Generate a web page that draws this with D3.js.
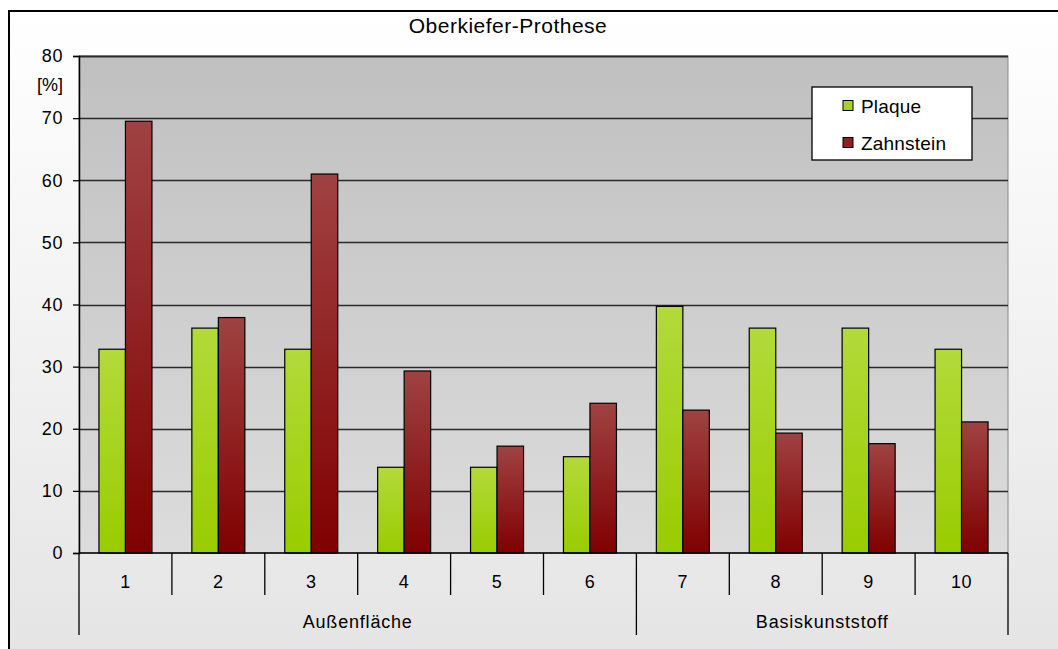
<!DOCTYPE html>
<html>
<head>
<meta charset="utf-8">
<script src="https://cdn.jsdelivr.net/npm/d3@7"></script>
<style>
  body { margin: 0; background: #fff; }
  svg { display: block; font-family: "Liberation Sans", Arial, sans-serif; }
</style>
</head>
<body>
<div id="chart"></div>
<script>
var categories = ["1", "2", "3", "4", "5", "6", "7", "8", "9", "10"];
var groups = [
  { name: "Außenfläche", from: 0, to: 6 },
  { name: "Basiskunststoff", from: 6, to: 10 }
];
var seriesNames = ["Plaque", "Zahnstein"];
var plaque = [32.8, 36.2, 32.8, 13.8, 13.8, 15.5, 39.7, 36.2, 36.2, 32.8];
var zahnstein = [69.5, 37.9, 61.0, 29.3, 17.2, 24.1, 23.0, 19.3, 17.6, 21.1];
var yTicks = [0, 10, 20, 30, 40, 50, 60, 70, 80];

var W = 1058, H = 649;
var margin = { top: 56, right: 50, bottom: 96, left: 79 };
var width = W - margin.left - margin.right,
  height = H - margin.top - margin.bottom;

var svg = d3.select("#chart").append("svg")
  .attr("width", W).attr("height", H);

var defs = svg.append("defs");
function vgrad(id, c0, c1) {
  var g = defs.append("linearGradient").attr("id", id)
    .attr("x1", 0).attr("y1", 0).attr("x2", 0).attr("y2", 1);
  g.append("stop").attr("offset", "0%").attr("stop-color", c0);
  g.append("stop").attr("offset", "100%").attr("stop-color", c1);
}
vgrad("bgGrad", "#ffffff", "#e2e2e2");
vgrad("plotGrad", "#c0c0c0", "#dcdcdc");
vgrad("gGrad", "#b2da3a", "#99cc00");
vgrad("rGrad", "#a04242", "#800000");

var axisFont = { size: 18, spacing: 0.8 };

// outer frame
svg.append("rect")
  .attr("x", 9).attr("y", 11).attr("width", 1200).attr("height", 700)
  .attr("fill", "url(#bgGrad)").attr("stroke", "#000").attr("stroke-width", 2);

svg.append("text")
  .attr("x", 508).attr("y", 33)
  .attr("text-anchor", "middle").attr("font-size", 21).attr("letter-spacing", 0.5)
  .attr("fill", "#000")
  .text("Oberkiefer-Prothese");

var g = svg.append("g")
  .attr("transform", "translate(" + margin.left + "," + margin.top + ")");

var x = d3.scaleBand().domain(categories).range([0, width]).paddingInner(0).paddingOuter(0);
var y = d3.scaleLinear().domain([0, 80]).range([height, 0]);

g.append("rect")
  .attr("width", width).attr("height", height)
  .attr("fill", "url(#plotGrad)").attr("stroke", "#888").attr("stroke-width", 1);

// gridlines
g.selectAll(".grid").data(yTicks.filter(function(d) { return d > 0; }))
  .enter().append("line")
  .attr("x1", 0).attr("x2", width)
  .attr("y1", function(d) { return Math.round(y(d)) + 0.5; })
  .attr("y2", function(d) { return Math.round(y(d)) + 0.5; })
  .attr("stroke", "#2a2a2a").attr("stroke-width", function(d) { return d === 80 ? 2 : 1.3; });

// bars
var barW = 26.5;
var series = [
  { name: seriesNames[0], values: plaque, fill: "url(#gGrad)", off: -barW },
  { name: seriesNames[1], values: zahnstein, fill: "url(#rGrad)", off: 0 }
];
series.forEach(function(s) {
  g.selectAll(null).data(s.values).enter().append("rect")
    .attr("x", function(d, i) { return x(categories[i]) + x.bandwidth() / 2 + s.off; })
    .attr("y", function(d) { return y(d); })
    .attr("width", barW)
    .attr("height", function(d) { return height - y(d); })
    .attr("fill", s.fill)
    .attr("stroke", "#000").attr("stroke-width", 1.2);
});

// y axis
var yAxis = d3.axisLeft(y).tickValues(yTicks).tickSize(6).tickPadding(10);
var ya = g.append("g").call(yAxis);
ya.select(".domain").attr("stroke", "#000").attr("stroke-width", 1.5);
ya.selectAll(".tick line").attr("stroke", "#000").attr("stroke-width", 1.3);
ya.selectAll(".tick text").attr("font-size", axisFont.size).attr("letter-spacing", 0.6)
  .attr("fill", "#000")
  .attr("font-family", "Liberation Sans, Arial, sans-serif");

g.append("text")
  .attr("x", -16).attr("y", y(80) + 35)
  .attr("text-anchor", "end").attr("font-size", axisFont.size).attr("fill", "#000")
  .text("[%]");

// x axis (two levels)
var xa = g.append("g").attr("transform", "translate(0," + height + ")");
xa.append("line").attr("x1", 0).attr("x2", width).attr("y1", 0).attr("y2", 0)
  .attr("stroke", "#000").attr("stroke-width", 1.5);
var bounds = d3.range(categories.length + 1);
xa.selectAll(".xt").data(bounds).enter().append("line")
  .attr("x1", function(i) { return i === categories.length ? width : x(categories[i]); })
  .attr("x2", function(i) { return i === categories.length ? width : x(categories[i]); })
  .attr("y1", 0)
  .attr("y2", function(i) {
    var isGroupEdge = groups.some(function(gr) { return gr.from === i || gr.to === i; });
    return isGroupEdge ? 82 : 42;
  })
  .attr("stroke", "#000").attr("stroke-width", 1.3);
xa.selectAll(".xl").data(categories).enter().append("text")
  .attr("x", function(d) { return x(d) + x.bandwidth() / 2; })
  .attr("y", 35)
  .attr("text-anchor", "middle").attr("font-size", axisFont.size)
  .attr("letter-spacing", 0.6).attr("fill", "#000")
  .text(function(d) { return d; });
xa.selectAll(".gl").data(groups).enter().append("text")
  .attr("x", function(gr) {
    var a = x(categories[gr.from]);
    var b = gr.to === categories.length ? width : x(categories[gr.to]);
    return (a + b) / 2;
  })
  .attr("y", 75)
  .attr("text-anchor", "middle").attr("font-size", axisFont.size)
  .attr("letter-spacing", axisFont.spacing).attr("fill", "#000")
  .text(function(gr) { return gr.name; });

// legend
var lg = svg.append("g").attr("transform", "translate(812,87)");
lg.append("rect").attr("width", 160).attr("height", 73)
  .attr("fill", "#fff").attr("stroke", "#000").attr("stroke-width", 1.3);
series.forEach(function(s, i) {
  var row = lg.append("g").attr("transform", "translate(31," + (19 + i * 37) + ")");
  row.append("rect").attr("x", 0).attr("y", -5.5).attr("width", 10).attr("height", 10)
    .attr("fill", i === 0 ? "#a8d420" : "#902020").attr("stroke", "#000");
  row.append("text").attr("x", 18).attr("y", 7)
    .attr("font-size", 19).attr("letter-spacing", 0.2).attr("fill", "#000").text(s.name);
});
</script>
</body>
</html>
